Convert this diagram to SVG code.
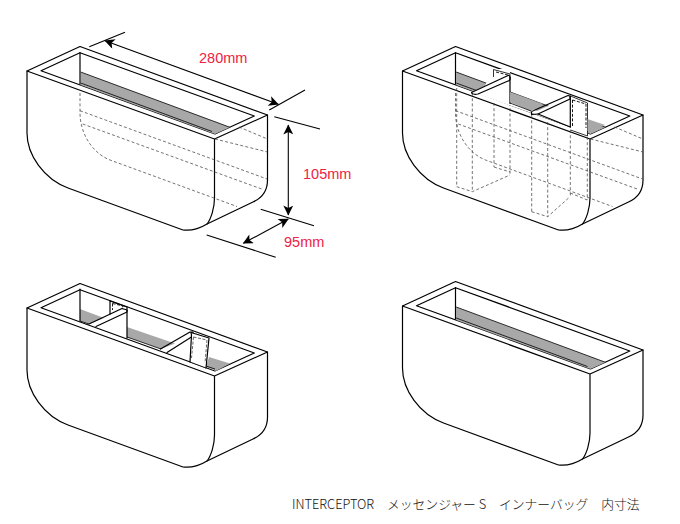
<svg xmlns="http://www.w3.org/2000/svg" width="680" height="524" viewBox="0 0 680 524">
<style>
.o{fill:none;stroke:#000;stroke-width:1.2;stroke-linejoin:round;stroke-linecap:round}
.t{fill:none;stroke:#000;stroke-width:.8}
.w{fill:#fff;stroke:#000;stroke-width:1.2;stroke-linejoin:round}
.g{fill:#a8a8a8;stroke:none}
.d{fill:none;stroke:#444;stroke-width:.75;stroke-dasharray:3 2.2}
.dk{fill:none;stroke:#000;stroke-width:.9;stroke-dasharray:3 1.6}
.dim{fill:none;stroke:#000;stroke-width:1.1}
.l{fill:#ee2244;font-family:"Liberation Sans",Arial,sans-serif;font-size:14.5px}
.c{fill:#111;font-family:"Noto Sans CJK JP","Noto Sans",sans-serif;font-size:12.8px;font-weight:300}
</style>
<defs>
<marker id="a" viewBox="0 0 10 10" refX="9.5" refY="5" markerWidth="11" markerHeight="10" markerUnits="userSpaceOnUse" orient="auto-start-reverse"><path d="M0 0L10 5L0 10L2.5 5Z" fill="#000"/></marker>
<g id="box">
<path class="w" d="M27 71L80 46.5L267.5 115V180C267.5 192 262 198 253 202L207 224C199 229 192 231 183 230L68 188C44 179 27 155 27 133Z"/>
<path class="o" d="M27 71L214.5 139L267.5 115M214.5 139V198C214.5 208 211 219 207 224"/>
<path class="o" d="M41 70.7L80 52.7L254.3 116L215 134Z"/>
</g>
<g id="tray">
<path class="g" d="M80.7 72L230 127.3L215 134L80.7 85Z"/>
<path class="t" d="M80.7 72L230 127.3M80.7 83L212 131.5"/>
</g>
<g id="hidden">
<path class="d" d="M80 93V113C80 133 92 153 110 160L237 206.5"/>
<path class="d" d="M80 110.7L267 179M82.7 124L263 189.5"/>
<path class="d" d="M239 127L267.5 139M215 139L267.5 152"/>
</g>
</defs>

<g id="box-dimensioned">
<use href="#box"/><use href="#tray"/><use href="#hidden"/>
<path class="o" d="M80 52.7V84"/>
</g>

<g id="dimensions">
<path class="dim" d="M89.3 46.7L125 32.3M269.3 110L305 90M274.3 116.7L320 129M260.7 209.3L314 225.7M206.7 235L275.7 257.3"/>
<path class="dim" marker-start="url(#a)" marker-end="url(#a)" d="M105 40.7L278.3 104.3"/>
<path class="dim" marker-start="url(#a)" marker-end="url(#a)" d="M288.3 125V215"/>
<path class="dim" marker-start="url(#a)" marker-end="url(#a)" d="M288.3 219L243.3 243.3"/>
<text class="l" x="199" y="63">280mm</text>
<text class="l" x="303" y="179">105mm</text>
<text class="l" x="284" y="247">95mm</text>
</g>

<g id="box-partitions-hidden">
<use href="#box" x="375.5"/><use href="#tray" x="375.5"/>
<use href="#hidden" x="375.5"/>
<path class="d" d="M456.7 88V186.7M472.3 93V191.7M456.7 186.7L472.3 191.7L510 175M494 103V167M510 103V175M494 167L510 172M531.7 115V211.7M547.7 122V216.7M531.7 211.7L547.7 216.7L570 196.7M570.3 130V196.7M587.3 137V200M570.3 193L587.3 200"/>
<path fill="#fff" stroke="none" d="M493.5 69H510V104L481 93Z M570.5 96L587.5 103V136L570.5 130Z M472 92L509 74V100L537 111L571 96V127Z"/>
<path class="o" d="M455.5 52.7V84"/>
<path class="t" d="M493.5 69.5L510 74V80M493.5 69.5V77M570.5 96L587.5 103V136M570.5 130L587.5 136"/>
<path class="dk" d="M496 72L508 75V78M572.5 100L586 104V128"/>
<path class="dk" d="M572.5 100V126"/>
<path class="w" d="M471.5 92.5L508 75.5Q510 75 510 78.5Q510 81 508 81L478 94Q472 95 471.5 92.5Z"/>
<path class="o" d="M510 77V103.5M570.3 96V127"/>
<path class="o" d="M531.5 111.5L568 95.5L570 96V99L538 114L570.3 127"/>
<path class="o" d="M531.5 111.5V114.5L538 114"/>
<path class="g" d="M510 92L543 104L531.5 111.5L510 102Z"/>
<path class="t" d="M510 103L531 111"/>
<path class="g" d="M587.5 119L605 125L591 132L587.5 131Z"/>
</g>

<g id="box-partitions">
<use href="#box" y="237"/>
<path class="g" d="M80 309L104 318L89 324L80 321Z"/>
<path class="g" d="M127 327L175 343.5L161 349L127 337Z"/>
<path class="g" d="M209 357L230 363.5L216 371L206 367Z"/>
<path class="o" d="M80 289V321"/>
<path class="t" d="M80 321L89 324M127 337L161 349M206 366L215 369"/>
<path fill="#fff" class="o" d="M89 324L122 308.5L127 310V312L96 326.5"/>
<path class="o" d="M127 307V338M110 301L127 307"/>
<path class="o" d="M110 301V314"/>
<path class="dk" d="M112.5 303.5L123 306L122 309M112.5 303.5V310"/>
<path fill="#fff" class="o" d="M160.5 349L190 332L193 332V336L167 352.5"/>
<path fill="#fff" stroke="none" d="M192 333L209 338L206 368L190 362Z"/>
<path class="o" d="M191 332.5L209 338L206 368"/>
<path class="o" d="M191 332.5L191.5 335L190 362"/>
<path class="t" d="M190 362L206 368"/>
<path class="dk" style="stroke:#555" d="M193.5 337L207 340L205 363M193.5 337L191.5 358"/>
</g>

<g id="box-plain">
<use href="#box" x="375.5" y="235"/><use href="#tray" x="375.5" y="235"/>
<path class="o" d="M455.5 287.7V319"/>
</g>

<text class="c" x="292" y="509">INTERCEPTOR　メッセンジャー S　インナーバッグ　内寸法</text>
</svg>
